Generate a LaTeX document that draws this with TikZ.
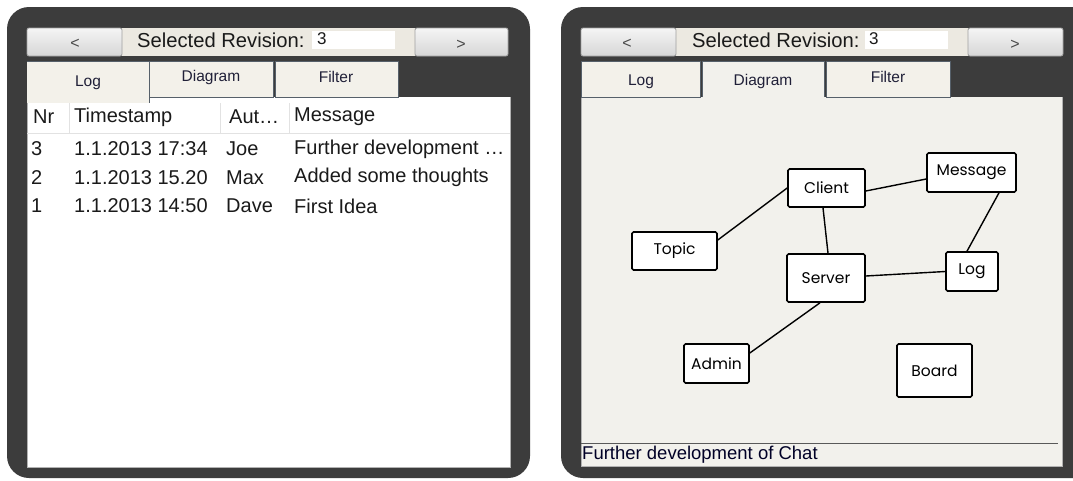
\documentclass[tikz,border=0pt]{standalone}
\usepackage{fontspec}
\setmainfont{Liberation Sans}
\newfontfamily\handfont{Poppins}
\definecolor{framegray}{HTML}{3C3C3C}
\definecolor{beige}{HTML}{ECE9E1}
\definecolor{tabbg}{HTML}{F3F1EA}
\definecolor{canvas}{HTML}{F2F1EC}
\definecolor{tabline}{HTML}{56606A}
\definecolor{btnline}{HTML}{A0A0A0}
\definecolor{sepgray}{HTML}{E2E2E2}
\definecolor{txt}{HTML}{1A1A1A}
\definecolor{tabtxt}{HTML}{202038}
\begin{document}
\begin{tikzpicture}[x=1pt,y=-1pt,
  frame/.style={fill=framegray, rounded corners=22pt},
  btn/.style={draw=btnline, line width=0.8pt, top color=white!96!black, bottom color=white!84!black, rounded corners=2pt},
  btntext/.style={font=\fontsize{16}{18}\selectfont, text=txt!80, inner sep=0pt},
  lbl/.style={font=\fontsize{20.2}{23}\selectfont, text=txt, inner sep=0pt, anchor=west},
  tabbox/.style={draw=tabline, line width=0.8pt, fill=tabbg},
  tabtext/.style={font=\fontsize{15.5}{18}\selectfont, text=tabtxt, inner sep=0pt},
  cell/.style={font=\fontsize{20}{23}\selectfont, text=txt, inner sep=0pt, anchor=west},
  umlbox/.style={draw=black, line width=1.6pt, fill=white, rounded corners=1.5pt, font=\handfont\fontsize{15.5}{17}\selectfont, inner sep=0pt},
  edge/.style={draw=black, line width=1.4pt}
]
\useasboundingbox (0,0) rectangle (1073,480);
\fill[white] (0,0) rectangle (1073,480);

% ---------------- left panel ----------------
\fill[frame] (7,7) rectangle (530,478);
\fill[white] (27,97) rectangle (510,467);
\draw[gray!60, line width=0.6pt] (27,97) -- (27,467) -- (510,467) -- (510,97);
% toolbar
\fill[beige] (122,28) rectangle (415,56);
\draw[btn] (27,28) rectangle (122,56);
\node[btntext] (lprev) at (75,44) {<};
\node[lbl] (lsel) at (137,40) {Selected Revision:};
\fill[white] (312,31) rectangle (395,49);
\node[lbl, font=\fontsize{17}{20}\selectfont] (lrev) at (317,39) {3};
\draw[btn] (415,28) rectangle (508,56);
\node[btntext] (lnext) at (461,45) {>};
% tabs
\fill[tabbg] (27,61) rectangle (149,103);
\draw[tabline, line width=0.8pt] (27,61) -- (149,61) -- (149,103);
\draw[tabbox] (149,61) rectangle (273,97);
\draw[tabbox] (275,61) rectangle (398,97);
\node[tabtext] (ltlog) at (88,83) {Log};
\node[tabtext] (ltdia) at (211,77) {Diagram};
\node[tabtext] (ltfil) at (336,77) {Filter};
% table header
\draw[sepgray, line width=1pt] (27,133) -- (510,133);
\draw[sepgray, line width=1pt] (69,103) -- (69,133);
\draw[sepgray, line width=1pt] (220,103) -- (220,133);
\draw[sepgray, line width=1pt] (289,103) -- (289,133);
\node[cell] (hnr) at (33,117) {Nr};
\node[cell] (hts) at (74,117) {Timestamp};
\node[cell] (hau) at (229,117) {Aut\ldots};
\node[cell] (hms) at (294,117) {Message};
% rows
\node[cell] (r1a) at (31,149) {3};
\node[cell] (r1b) at (74,149) {1.1.2013 17:34};
\node[cell] (r1c) at (226,149) {Joe};
\node[cell] (r1d) at (294,149) {Further development \ldots};
\node[cell] (r2a) at (31,177.5) {2};
\node[cell] (r2b) at (74,177.5) {1.1.2013 15.20};
\node[cell] (r2c) at (226,177.5) {Max};
\node[cell] (r2d) at (294,177.5) {Added some thoughts};
\node[cell] (r3a) at (31,206) {1};
\node[cell] (r3b) at (74,206) {1.1.2013 14:50};
\node[cell] (r3c) at (226,206) {Dave};
\node[cell] (r3d) at (294,206) {First Idea};

% ---------------- right panel ----------------
\fill[frame] (561,7) rectangle (1110,478);
\fill[canvas] (581,97) rectangle (1062,466);
\draw[gray!60, line width=0.6pt] (581,97) -- (581,466) -- (1062,466) -- (1062,97);
% toolbar
\fill[beige] (676,28) rectangle (968,56);
\draw[btn] (581,28) rectangle (676,56);
\node[btntext] (rprev) at (627,44) {<};
\node[lbl] (rsel) at (692,40) {Selected Revision:};
\fill[white] (865,31) rectangle (948,49);
\node[lbl, font=\fontsize{17}{20}\selectfont] (rrev) at (869,39) {3};
\draw[btn] (968,28) rectangle (1063,56);
\node[btntext] (rnext) at (1015,45) {>};
% tabs
\draw[tabbox] (581,61) rectangle (700,97);
\draw[tabbox] (826,61) rectangle (950,97);
\fill[canvas] (702,61) rectangle (824,99);
\draw[tabline, line width=0.8pt] (702,97) -- (702,61) -- (824,61) -- (824,97);
\node[tabtext] (rtlog) at (641,82) {Log};
\node[tabtext] (rtdia) at (763,81) {Diagram};
\node[tabtext] (rtfil) at (888,77) {Filter};
% diagram
\node[umlbox, minimum width=77pt, minimum height=38pt] (client) at (826.5,188) {Client};
\node[umlbox, minimum width=89pt, minimum height=39pt] (message) at (971.5,172.5) {Message};
\node[umlbox, minimum width=85pt, minimum height=38pt] (topic) at (674.5,251) {Topic};
\node[umlbox, minimum width=78pt, minimum height=48pt] (server) at (826,278) {Server};
\node[umlbox, minimum width=52pt, minimum height=39pt] (log) at (972,271.5) {Log};
\node[umlbox, minimum width=65pt, minimum height=39pt] (admin) at (716.5,363.5) {Admin};
\node[umlbox, minimum width=75pt, minimum height=53pt] (board) at (934.5,370.5) {Board};
\draw[edge] ([yshift=11pt]topic.east) -- (client.west);
\draw[edge] ([yshift=-3pt]client.east) -- ([yshift=-6.5pt]message.west);
\draw[edge] ([xshift=-3.5pt]client.south) -- ([xshift=2pt]server.north);
\draw[edge] ([xshift=27.5pt]message.south) -- ([xshift=-5pt]log.north);
\draw[edge] ([yshift=2pt]server.east) -- (log.west);
\draw[edge] ([xshift=-6pt]server.south) -- ([yshift=10.5pt]admin.east);
% status
\draw[gray!70!black, line width=1pt] (581,443) -- (1058,443);
\node[lbl, font=\fontsize{18.5}{21}\selectfont, text=black!85!blue] (status) at (582,455) {Further development of Chat};
\end{tikzpicture}
\end{document}
